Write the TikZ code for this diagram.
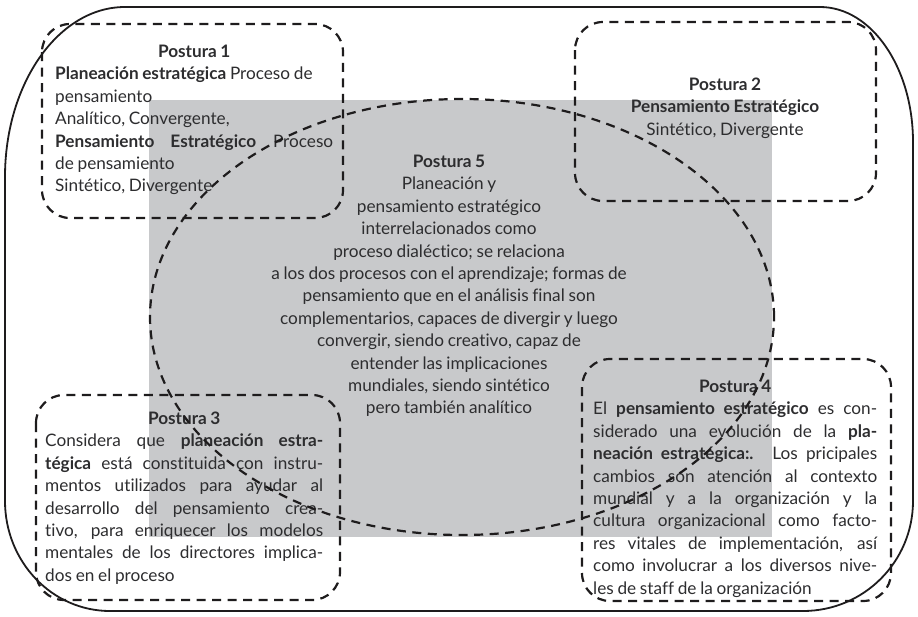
\documentclass[tikz,border=0pt]{standalone}
\usepackage{fontspec}
\setmainfont{Lato}[Ligatures=NoCommon, WordSpace=0.85]
\usetikzlibrary{calc}
\definecolor{panelgray}{RGB}{200,201,203}
\definecolor{inkgray}{RGB}{45,45,47}
\definecolor{linedark}{RGB}{30,28,29}
\tikzset{
  dashbox/.style={linedark, line width=2.2pt, dash pattern=on 9pt off 6.5pt, rounded corners=28pt},
  posture/.style={inner sep=0pt, anchor=north, text=inkgray, font=\fontsize{17.2}{22.4}\selectfont},
  justbox/.style={posture, anchor=north west, text width=#1, align=justify}
}

\begin{document}
\begin{tikzpicture}[x=1pt, y=-1pt]
\useasboundingbox (0,0) rectangle (918,616);
\fill[panelgray] (149,100) rectangle (772,537);
% outer frame, corners not all alike
\draw[linedark, line width=1.8pt] (125,7) -- (820,7)
  arc[start angle=90, end angle=0, x radius=93pt, y radius=135pt] -- (913,501)
  arc[start angle=0, end angle=-90, x radius=110pt, y radius=110pt] -- (110,611)
  arc[start angle=-90, end angle=-180, x radius=105pt, y radius=110pt] -- (5,177)
  arc[start angle=180, end angle=90, x radius=120pt, y radius=170pt] -- cycle;

% the five postures
\node[justbox=278pt] (post1) at (55,41.6) {\tolerance=9999\strut\hfill\textbf{Postura 1}\hfill\null\linebreak
\textbf{Planeación estratégica} Proceso de\\
pensamiento\\
Analítico, Convergente,\\
\textbf{Pensamiento Estratégico} Proceso\linebreak
de pensamiento\\
Sintético, Divergente};
\node[posture, align=center] (post2) at (725,74.6) {\strut\textbf{Postura 2}\\
\textbf{Pensamiento Estratégico}\\
Sintético, Divergente};
\node[justbox=278pt] (post3) at (45,408.6) {\tolerance=9999\strut\hfill\textbf{Postura 3}\hfill\null\linebreak
Considera que \textbf{planeación estra-}\linebreak
\textbf{tégica} está constituida con instru-\linebreak
mentos utilizados para ayudar al\linebreak
desarrollo del pensamiento crea-\linebreak
tivo, para enriquecer los modelos\linebreak
mentales de los directores implica-\linebreak
dos en el proceso};
\node[justbox=284pt] (post4) at (593,376.6) {\tolerance=9999\strut\hfill\textbf{Postura 4}\hfill\null\linebreak
El \textbf{pensamiento estratégico} es con-\linebreak
siderado una evolución de la \textbf{pla-}\linebreak
\textbf{neación estratégica:.} Los pricipales\linebreak
cambios son atención al contexto\linebreak
mundial y a la organización y la\linebreak
cultura organizacional como facto-\linebreak
res vitales de implementación, así\linebreak
como involucrar a los diversos nive-\linebreak
les de staff de la organización};
\node[posture, align=center] (post5) at (449,151.6) {\strut\textbf{Postura 5}\\
Planeación y\\
pensamiento estratégico\\
interrelacionados como\\
proceso dialéctico; se relaciona\\
a los dos procesos con el aprendizaje; formas de\\
pensamiento que en el análisis final son\\
complementarios, capaces de divergir y luego\\
convergir, siendo creativo, capaz de\\
entender las implicaciones\\
mundiales, siendo sintético\\
pero también analítico};

% dashed outlines
\foreach \xa/\ya/\xb/\yb in {42/24/343/218, 575/22/876/201, 36/395/340/600, 582/359/891/601}
  \draw[dashbox] (\xa,\ya) rectangle (\xb,\yb);
\draw[dashbox] (462,317) ellipse [x radius=312pt, y radius=218pt];
\end{tikzpicture}
\end{document}
